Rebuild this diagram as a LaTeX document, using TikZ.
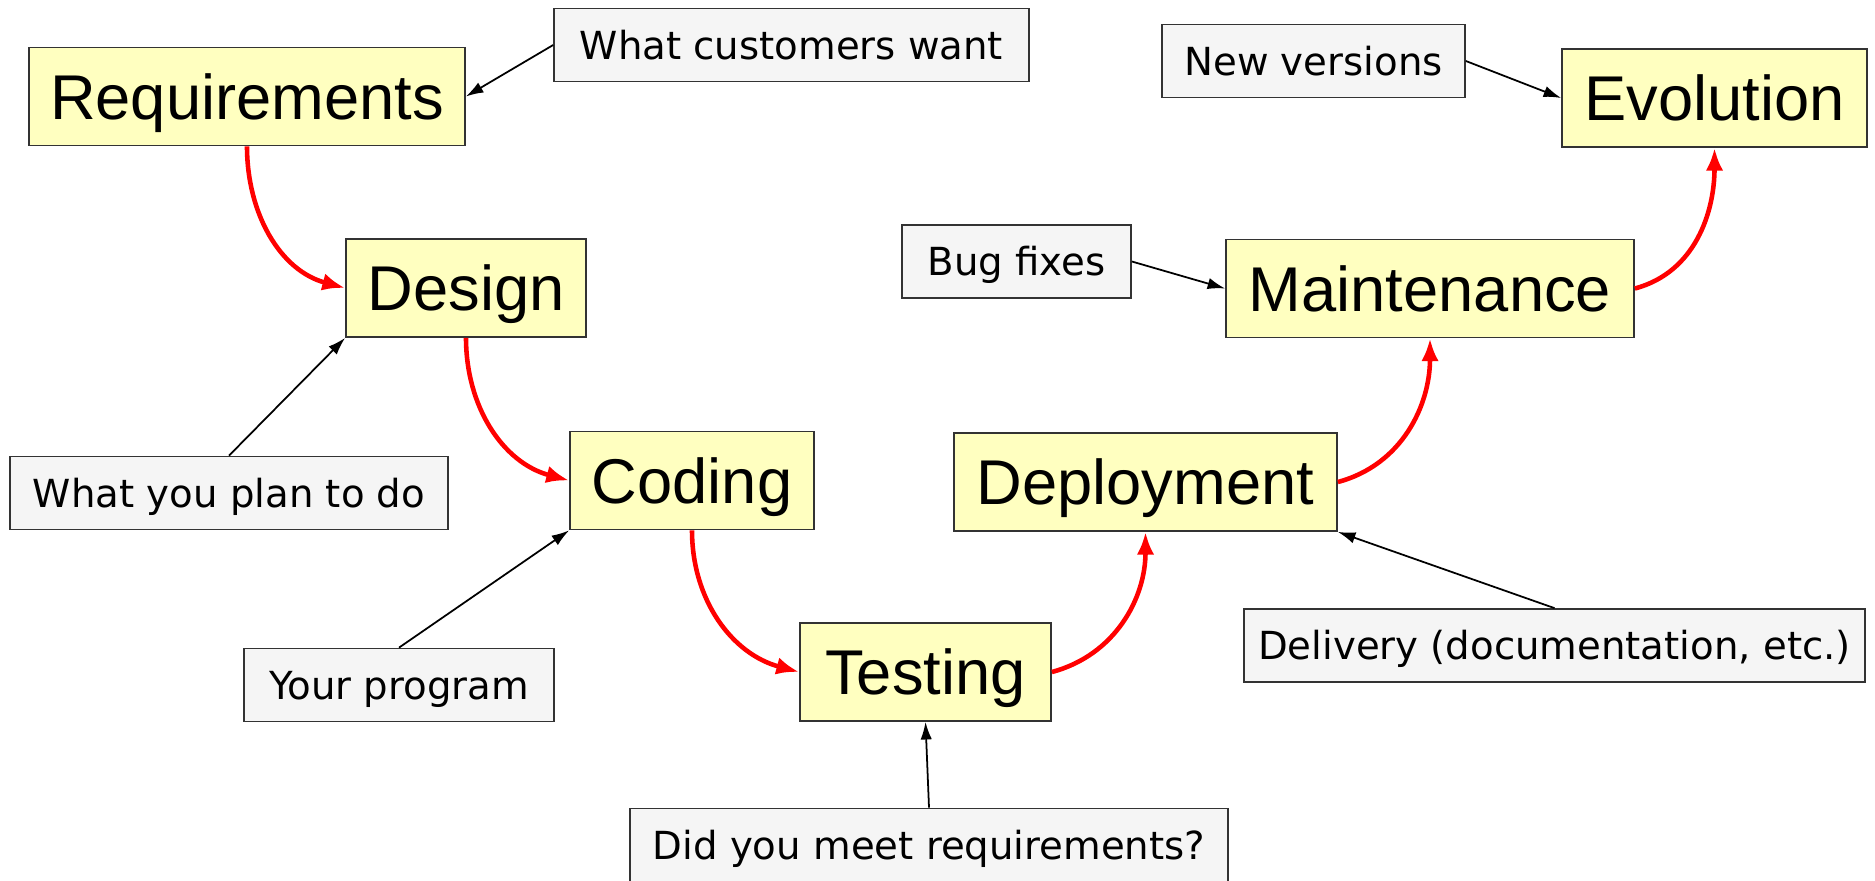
\documentclass[tikz,border=0pt]{standalone}
\usepackage{fontspec}
\setmainfont{Liberation Sans}
\newfontfamily\notefont{DejaVu Sans}
\usepackage{xcolor}
\usetikzlibrary{arrows.meta, positioning}

\definecolor{phasefill}{RGB}{255,255,192}
\definecolor{notefill}{RGB}{245,245,245}

\tikzset{
  phase/.style={draw=black!80, line width=1pt, fill=phasefill, inner sep=0pt,
    minimum height=1.96cm, font=\fontsize{36}{40}\selectfont,
    text height=25.8pt, text depth=0pt},
  note/.style={draw=black!80, line width=1pt, fill=notefill, inner sep=0pt,
    minimum height=1.46cm, font=\notefont\fontsize{22}{24}\selectfont,
    text height=16pt, text depth=0pt},
  flow/.style={color=red, line width=2.6pt, -{Latex[length=13pt,width=10pt]}},
  hint/.style={color=black, line width=1pt, -{Latex[length=10pt,width=6.5pt]}}
}

\begin{document}
\begin{tikzpicture}[x=0.02cm, y=-0.02cm]
		\useasboundingbox (0,0) rectangle (1875,880);
		\node [phase, minimum width=8.72cm] (req) at (247,96.5) {Requirements};
		\node [phase, minimum width=4.8cm] (des) at (466,288) {Design};
		\node [phase, minimum width=4.88cm] (cod) at (692,480.5) {Coding};
		\node [phase, minimum width=5.02cm] (tes) at (925.5,672) {Testing};
		\node [phase, minimum width=7.66cm] (dep) at (1145.5,482) {Deployment};
		\node [phase, minimum width=8.16cm] (mnt) at (1430,288.5) {Maintenance};
		\node [phase, minimum width=6.1cm] (evo) at (1714.5,98) {Evolution};
		\node [note, minimum width=9.5cm] (want) at (791.5,45) {What customers want};
		\node [note, minimum width=6.06cm] (vers) at (1313.5,61) {New versions};
		\node [note, minimum width=4.58cm] (bugs) at (1016.5,261.5) {Bug fixes};
		\node [note, minimum width=8.76cm] (plan) at (229,493) {What you plan to do};
		\node [note, minimum width=6.2cm] (prog) at (399,685) {Your program};
		\node [note, minimum width=11.96cm] (meet) at (929,845) {Did you meet requirements?};
		\node [note, minimum width=12.42cm] (dlvr) at (1554.5,645.5) {Delivery (documentation, etc.)};
		\draw [flow] (req.south) to[out=-90, in=165] (des.west);
		\draw [flow] (des.south) to[out=-90, in=165] (cod.west);
		\draw [flow] (cod.south) to[out=-90, in=165] (tes.west);
		\draw [flow] (tes.east) to[out=15, in=-90] (dep.south);
		\draw [flow] (dep.east) to[out=15, in=-90] (mnt.south);
		\draw [flow] (mnt.east) to[out=15, in=-90] (evo.south);
		\draw [hint] (want.west) -- (req.east);
		\draw [hint] (plan.north) -- (des.south west);
		\draw [hint] (prog.north) -- (cod.south west);
		\draw [hint] (meet.north) -- (tes.south);
		\draw [hint] (dlvr.north) -- (dep.south east);
		\draw [hint] (bugs.east) -- (mnt.west);
		\draw [hint] (vers.east) -- (evo.west);
	\end{tikzpicture}
\end{document}
